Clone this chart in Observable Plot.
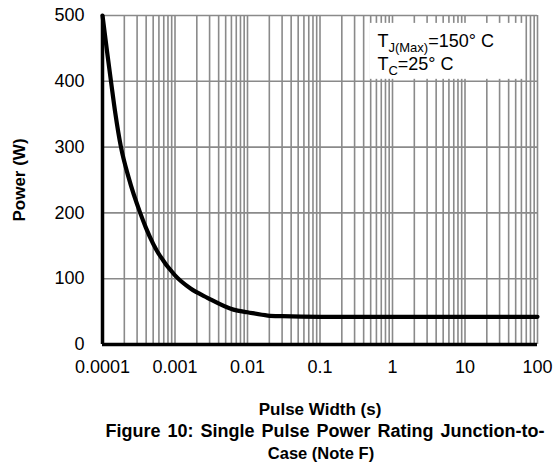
<!DOCTYPE html>
<html><head><meta charset="utf-8">
<script src="https://cdn.jsdelivr.net/npm/d3@7"></script>
<script src="https://cdn.jsdelivr.net/npm/@observablehq/plot@0.6"></script>
<style>
body{margin:0;background:#fff;font-family:"Liberation Sans",Arial,sans-serif;}
.cap{width:440px;font-weight:bold;line-height:22px;color:#000;white-space:nowrap;text-align:center;}
#cap1{margin-left:105px;font-size:18px;word-spacing:2px;}
#cap2{margin-left:101px;font-size:16.5px;}
</style></head><body>
<div id="chart"></div>
<div class="cap" id="cap1">Figure 10: Single Pulse Power Rating Junction-to-</div>
<div class="cap" id="cap2">Case (Note F)</div>
<script>
// Data
const pulseWidth = [1e-4, 1.15e-4, 1.32e-4, 1.5e-4, 1.79e-4, 2.29e-4, 3.31e-4, 3.95e-4, 5e-4, 1e-3, 1.64e-3, 2.8e-3, 6.4e-3, 0.01, 0.019, 0.03, 0.1, 100];
const power      = [500, 447, 397, 352, 301, 254, 200, 178, 153, 105, 85, 71, 53, 49, 44, 43, 42, 42];

const xTicks = [1e-4, 1e-3, 1e-2, 0.1, 1, 10, 100];
const xTickLabels = ["0.0001", "0.001", "0.01", "0.1", "1", "10", "100"];
const yTicks = [0, 100, 200, 300, 400, 500];
const xMinorMultipliers = [1, 2, 3, 4, 5, 6, 7, 8, 9];

// Annotation box and its lines
const legendBox = [{x1: 0.49, x2: 68, y1: 403, y2: 488}];
const legendMain = ["T", "T"];
const legendSub = ["J(Max)", "C"];
const legendRest = ["=150\u00B0 C", "=25\u00B0 C"];
const legendX = [0.62, 0.62];
const legendY = [461, 426];

const xGrid = xTicks.slice(0, -1).flatMap(d => xMinorMultipliers.map(m => m * d)).concat([100]);
const curve = pulseWidth.map((x, i) => ({x, y: power[i]}));
const legendRows = legendMain.map((t, i) => ({x: legendX[i], y: legendY[i], text: t + legendSub[i] + legendRest[i]}));
const labelOf = new Map(xTicks.map((t, i) => [t, xTickLabels[i]]));

const plot = Plot.plot({
  width: 559,
  height: 420,
  marginLeft: 102,
  marginRight: 22,
  marginTop: 15,
  marginBottom: 76,
  style: {fontFamily: "'Liberation Sans', Arial, sans-serif", fontSize: "18px", color: "#000", background: "#fff"},
  x: {type: "log", domain: [1e-4, 100]},
  y: {domain: [0, 500]},
  marks: [
    Plot.ruleX(xGrid, {stroke: "#8a8a8a", strokeWidth: 1.6}),
    Plot.ruleY(yTicks, {stroke: "#8a8a8a", strokeWidth: 1.6}),
    Plot.rect(legendBox, {x1: "x1", x2: "x2", y1: "y1", y2: "y2", fill: "#fff"}),
    Plot.ruleX([1e-4], {stroke: "#000", strokeWidth: 3.5}),
    Plot.ruleY([0], {stroke: "#000", strokeWidth: 3.5}),
    Plot.line(curve, {x: "x", y: "y", stroke: "#000", strokeWidth: 4.2, curve: "monotone-x"}),
    Plot.axisX({ticks: xTicks, tickFormat: d => labelOf.get(d), tickSize: 0, tickPadding: 16, label: null, fontSize: 18}),
    Plot.axisY({ticks: yTicks, tickSize: 0, tickPadding: 18, label: null, fontSize: 18}),
    Plot.text(["Power (W)"], {frameAnchor: "left", dx: -83, rotate: -90, fontWeight: "bold", fontSize: 17, textAnchor: "middle", lineAnchor: "middle"}),
    Plot.text(["Pulse Width (s)"], {frameAnchor: "bottom", dy: 65, fontWeight: "bold", fontSize: 17, textAnchor: "middle", lineAnchor: "middle"}),
    Plot.text(legendRows, {x: "x", y: "y", text: "text", textAnchor: "start", lineAnchor: "middle", fontSize: 18})
  ]
});

d3.select(plot).selectAll("text").each(function() {
  const i = legendRows.findIndex(r => r.text === this.textContent);
  if (i < 0) return;
  const t = d3.select(this);
  t.text(null);
  t.append("tspan").text(legendMain[i]);
  t.append("tspan").attr("dy", 5).attr("font-size", 13).text(legendSub[i]);
  t.append("tspan").attr("dy", -5).text(legendRest[i]);
});

document.getElementById("chart").appendChild(plot);
</script>
</body></html>
